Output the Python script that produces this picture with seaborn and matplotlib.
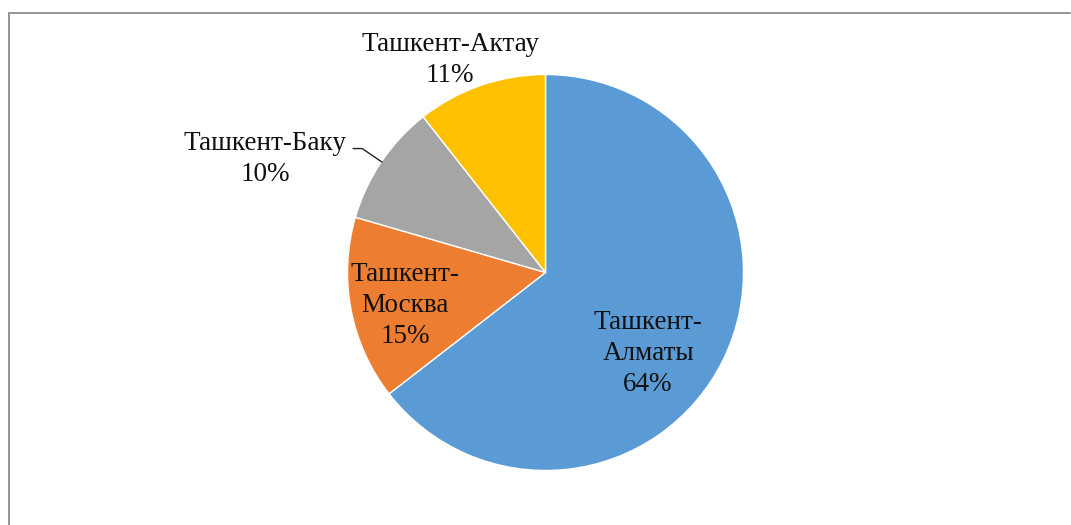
"""
Pie chart: share of routes from Tashkent.
"""
import matplotlib.pyplot as plt
import seaborn as sns
from matplotlib.lines import Line2D

routes = ["Ташкент-\nАлматы", "Ташкент-\nМосква", "Ташкент-Баку", "Ташкент-Актау"]
shares = [64.5, 15.0, 9.9, 10.6]          # slice sizes
pct_labels = [64, 15, 10, 11]             # percentages as printed on the chart
colors = ["#5B9BD5", "#ED7D31", "#A5A5A5", "#FFC000"]

# label anchor points (pie units, centre = 0,0, radius = 1)
label_pos = [(0.518, -0.41), (-0.71, -0.166), (-1.416, 0.573), (-0.482, 1.073)]

sns.set_theme(style="white")
plt.rcParams["font.family"] = ["Liberation Serif", "DejaVu Serif"]

W, H = 1071, 525
fig = plt.figure(figsize=(W / 100, H / 100), dpi=100)

cx, cy, r = 545.5, 272.5, 198
ax = fig.add_axes([(cx - r) / W, (H - cy - r) / H, 2 * r / W, 2 * r / H])
wedges, _ = ax.pie(
    shares,
    colors=colors,
    startangle=90,
    counterclock=False,
    radius=1,
    wedgeprops={"edgecolor": "white", "linewidth": 1.0},
)
ax.set_xlim(-1, 1)
ax.set_ylim(-1, 1)
ax.set_aspect("equal")
ax.axis("off")

for name, val, (x, y) in zip(routes, pct_labels, label_pos):
    ax.text(x, y, f"{name}\n{val}%", ha="center", va="center",
            fontsize=19.5, color="#111111", linespacing=1.33)

# leader line for the Baku slice
ax.add_line(Line2D([-0.972, -0.926, -0.826], [0.626, 0.626, 0.558],
                   color="#222222", linewidth=1, clip_on=False))

# chart area frame (only left and top edges are visible)
fx, fy = 8.5 / W, 1 - 13 / H
fig.add_artist(Line2D([fx, fx], [0, fy], color="#8c8c8c", linewidth=1.3))
fig.add_artist(Line2D([fx, 1070 / W], [fy, fy], color="#8c8c8c", linewidth=1.3))

fig.savefig("out.png", dpi=100, facecolor="white")
